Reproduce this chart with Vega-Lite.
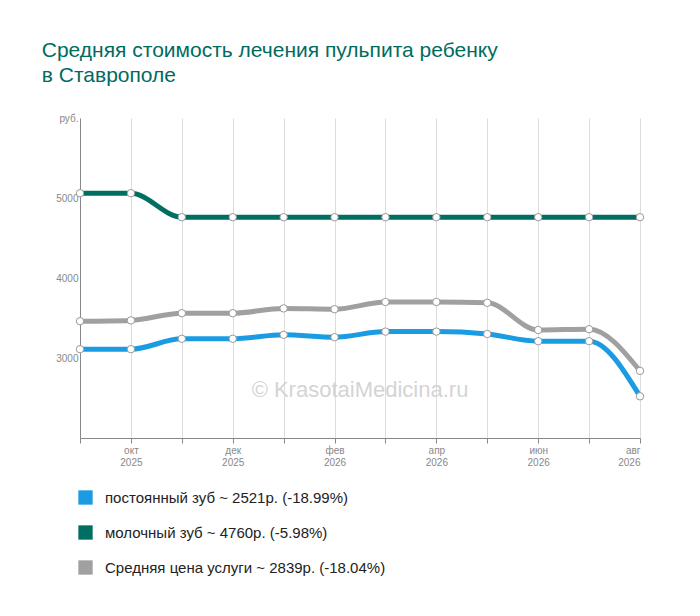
{
  "$schema": "https://vega.github.io/schema/vega-lite/v6.json",
  "width": 560,
  "height": 320,
  "autosize": "none",
  "padding": {"left": 80, "top": 118, "right": 60, "bottom": 178},
  "background": "white",
  "title": {
    "text": ["Средняя стоимость лечения пульпита ребенку", "в Ставрополе"],
    "anchor": "start",
    "dx": -14,
    "offset": 27,
    "font": "Liberation Sans",
    "fontSize": 21,
    "fontWeight": "normal",
    "color": "#006b5f",
    "lineHeight": 25
  },
  "config": {"view": {"stroke": null}},
  "datasets": {
    "series": [
      {"m": 0, "s": "постоянный зуб ~ 2521р. (-18.99%)", "v": 3110},
      {"m": 1, "s": "постоянный зуб ~ 2521р. (-18.99%)", "v": 3110},
      {"m": 2, "s": "постоянный зуб ~ 2521р. (-18.99%)", "v": 3240},
      {"m": 3, "s": "постоянный зуб ~ 2521р. (-18.99%)", "v": 3240},
      {"m": 4, "s": "постоянный зуб ~ 2521р. (-18.99%)", "v": 3290},
      {"m": 5, "s": "постоянный зуб ~ 2521р. (-18.99%)", "v": 3260},
      {"m": 6, "s": "постоянный зуб ~ 2521р. (-18.99%)", "v": 3330},
      {"m": 7, "s": "постоянный зуб ~ 2521р. (-18.99%)", "v": 3330},
      {"m": 8, "s": "постоянный зуб ~ 2521р. (-18.99%)", "v": 3300},
      {"m": 9, "s": "постоянный зуб ~ 2521р. (-18.99%)", "v": 3210},
      {"m": 10, "s": "постоянный зуб ~ 2521р. (-18.99%)", "v": 3210},
      {"m": 11, "s": "постоянный зуб ~ 2521р. (-18.99%)", "v": 2521},
      {"m": 0, "s": "молочный зуб ~ 4760р. (-5.98%)", "v": 5060},
      {"m": 1, "s": "молочный зуб ~ 4760р. (-5.98%)", "v": 5060},
      {"m": 2, "s": "молочный зуб ~ 4760р. (-5.98%)", "v": 4760},
      {"m": 3, "s": "молочный зуб ~ 4760р. (-5.98%)", "v": 4760},
      {"m": 4, "s": "молочный зуб ~ 4760р. (-5.98%)", "v": 4760},
      {"m": 5, "s": "молочный зуб ~ 4760р. (-5.98%)", "v": 4760},
      {"m": 6, "s": "молочный зуб ~ 4760р. (-5.98%)", "v": 4760},
      {"m": 7, "s": "молочный зуб ~ 4760р. (-5.98%)", "v": 4760},
      {"m": 8, "s": "молочный зуб ~ 4760р. (-5.98%)", "v": 4760},
      {"m": 9, "s": "молочный зуб ~ 4760р. (-5.98%)", "v": 4760},
      {"m": 10, "s": "молочный зуб ~ 4760р. (-5.98%)", "v": 4760},
      {"m": 11, "s": "молочный зуб ~ 4760р. (-5.98%)", "v": 4760},
      {"m": 0, "s": "Средняя цена услуги ~ 2839р. (-18.04%)", "v": 3460},
      {"m": 1, "s": "Средняя цена услуги ~ 2839р. (-18.04%)", "v": 3470},
      {"m": 2, "s": "Средняя цена услуги ~ 2839р. (-18.04%)", "v": 3560},
      {"m": 3, "s": "Средняя цена услуги ~ 2839р. (-18.04%)", "v": 3560},
      {"m": 4, "s": "Средняя цена услуги ~ 2839р. (-18.04%)", "v": 3620},
      {"m": 5, "s": "Средняя цена услуги ~ 2839р. (-18.04%)", "v": 3610},
      {"m": 6, "s": "Средняя цена услуги ~ 2839р. (-18.04%)", "v": 3700},
      {"m": 7, "s": "Средняя цена услуги ~ 2839р. (-18.04%)", "v": 3700},
      {"m": 8, "s": "Средняя цена услуги ~ 2839р. (-18.04%)", "v": 3690},
      {"m": 9, "s": "Средняя цена услуги ~ 2839р. (-18.04%)", "v": 3350},
      {"m": 10, "s": "Средняя цена услуги ~ 2839р. (-18.04%)", "v": 3360},
      {"m": 11, "s": "Средняя цена услуги ~ 2839р. (-18.04%)", "v": 2839}
    ],
    "mark": [{"label": "© KrasotaiMedicina.ru", "x": 5.5, "y": 2600}]
  },
  "data": {"name": "series"},
  "encoding": {
    "x": {
      "field": "m",
      "type": "quantitative",
      "scale": {"domain": [0, 11], "nice": false},
      "axis": {
        "title": null,
        "values": [0, 1, 2, 3, 4, 5, 6, 7, 8, 9, 10, 11],
        "labelExpr": "datum.value % 2 == 1 ? [['окт','дек','фев','апр','июн','авг'][(datum.value-1)/2], datum.value < 5 ? '2025' : '2026'] : ''",
        "grid": true,
        "gridColor": "#dddddd",
        "domainColor": "#888888",
        "tickColor": "#888888",
        "tickSize": 5,
        "labelColor": "#888888",
        "labelFontSize": 10,
        "labelFont": "Liberation Sans"
      }
    },
    "y": {
      "field": "v",
      "type": "quantitative",
      "scale": {"domain": [2000, 6000], "nice": false},
      "axis": {
        "title": null,
        "values": [2000, 3000, 4000, 5000, 6000],
        "labelExpr": "datum.value == 6000 ? 'руб.' : datum.value == 2000 ? '' : datum.value",
        "grid": false,
        "ticks": false,
        "domainColor": "#888888",
        "labelColor": "#888888",
        "labelFontSize": 10,
        "labelFont": "Liberation Sans"
      }
    }
  },
  "layer": [
    {
      "data": {"name": "mark"},
      "mark": {"type": "text", "fontSize": 22, "font": "Liberation Sans", "fill": "#d4d4d4"},
      "encoding": {
        "x": {"field": "x", "type": "quantitative"},
        "y": {"field": "y", "type": "quantitative"},
        "text": {"field": "label"}
      }
    },
    {
      "mark": {"type": "line", "interpolate": "monotone", "strokeWidth": 5},
      "encoding": {
        "color": {
          "field": "s",
          "type": "nominal",
          "sort": null,
          "scale": {
            "domain": ["постоянный зуб ~ 2521р. (-18.99%)", "молочный зуб ~ 4760р. (-5.98%)", "Средняя цена услуги ~ 2839р. (-18.04%)"],
            "range": ["#1b9ce2", "#006f62", "#a0a0a0"]
          },
          "legend": {
            "title": null,
            "orient": "none",
            "legendX": -2,
            "legendY": 372,
            "direction": "vertical",
            "symbolType": "square",
            "symbolSize": 40,
            "symbolStrokeWidth": 8,
            "labelFontSize": 15,
            "labelFont": "Liberation Sans",
            "labelColor": "#222222",
            "labelLimit": 400,
            "rowPadding": -4,
            "labelOffset": 12
          }
        }
      }
    },
    {
      "mark": {"type": "point", "filled": true, "fill": "white", "size": 55, "strokeWidth": 1, "stroke": "#999999", "opacity": 1}
    }
  ]
}
